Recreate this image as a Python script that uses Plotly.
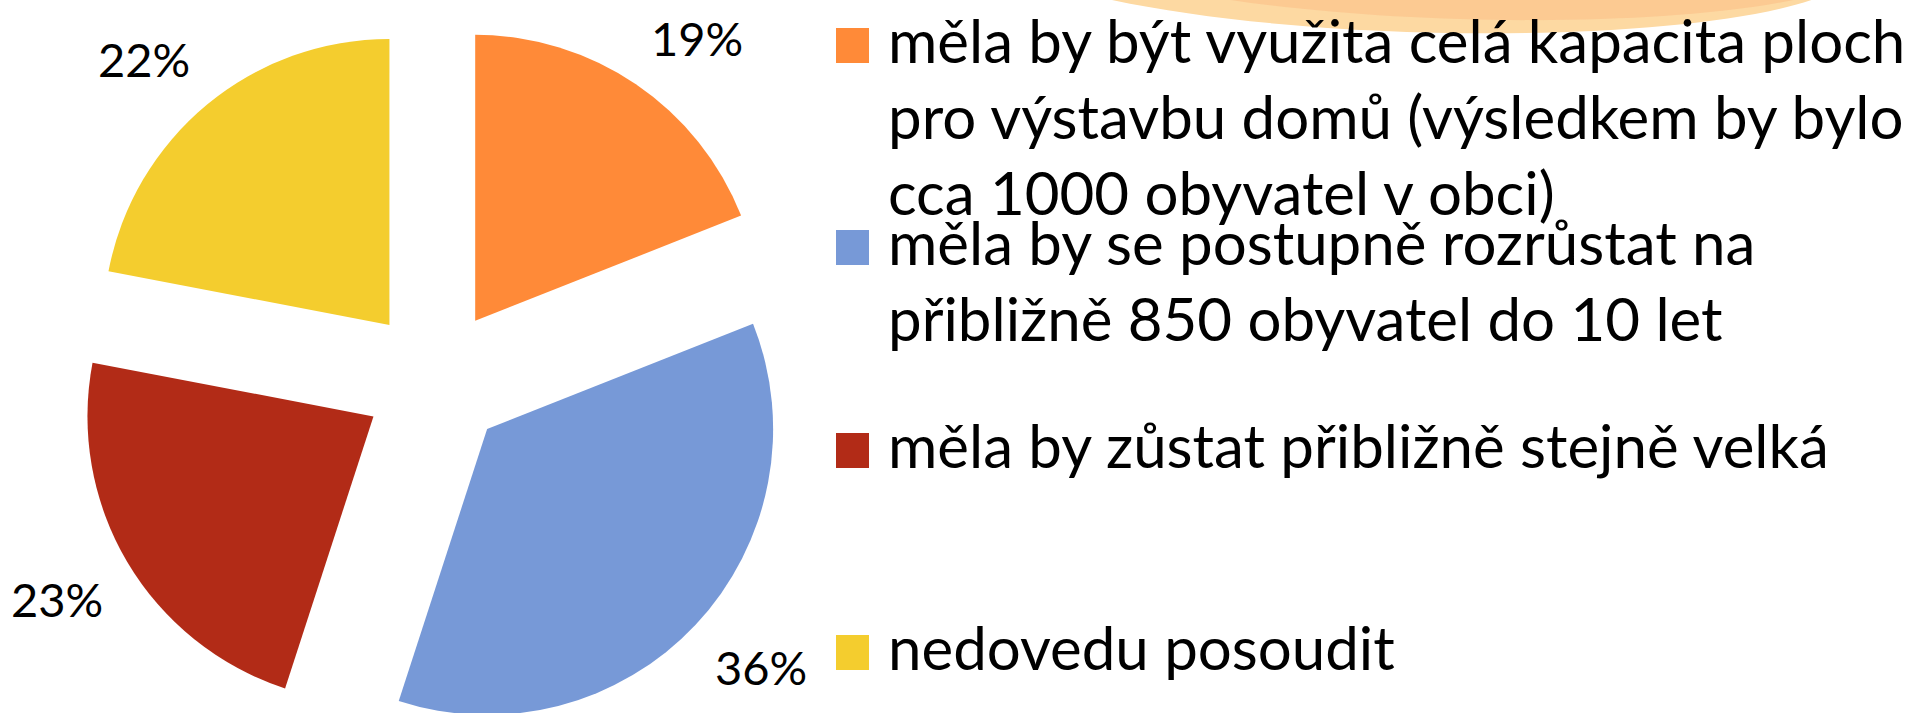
import math
import plotly.graph_objects as go

# ---- data ----
labels = [
    "měla by být využita celá kapacita ploch pro výstavbu domů (výsledkem by bylo cca 1000 obyvatel v obci)",
    "měla by se postupně rozrůstat na přibližně 850 obyvatel do 10 let",
    "měla by zůstat přibližně stejně velká",
    "nedovedu posoudit",
]
legend_lines = [
    ["měla by být využita celá kapacita ploch", "pro výstavbu domů (výsledkem by bylo", "cca 1000 obyvatel v obci)"],
    ["měla by se postupně rozrůstat na", "přibližně 850 obyvatel do 10 let"],
    ["měla by zůstat přibližně stejně velká"],
    ["nedovedu posoudit"],
]
values = [19, 36, 23, 22]
colors = ["#FF8A38", "#7799D7", "#B22B17", "#F4CD2E"]

# ---- layout geometry (pixels) ----
W, H = 1919, 760          # figure a bit taller than the 713 window, bottom clipped
CX, CY, R, PULL = 435, 380, 286, 0.25
half = R * (1 + PULL)
LABEL_GAP = 30            # gap between slice edge and label box corner
LABEL_HW, LABEL_HH = 44, 22


def px(x):
    return x / W


def py(y):
    return 1 - y / H


def sgn(a):
    return 1 if a > 1e-9 else (-1 if a < -1e-9 else 0)


fig = go.Figure()
fig.add_trace(go.Pie(
    labels=labels, values=values, sort=False, direction="clockwise", rotation=0,
    pull=[PULL] * len(values),
    marker=dict(colors=colors, line=dict(width=0)),
    textinfo="none", automargin=False,
    domain=dict(x=[px(CX - half), px(CX + half)], y=[py(CY + half), py(CY - half)]),
    showlegend=False, hoverinfo="label+percent",
))

shapes = []
annotations = []

# percent labels outside the slices (box corner placed just beyond each slice's outer edge)
total = sum(values)
cum = 0
for v in values:
    mid = 2 * math.pi * (cum + v / 2) / total
    cum += v
    s, c = math.sin(mid), math.cos(mid)
    d = half + LABEL_GAP
    lx = CX + d * s + sgn(s) * LABEL_HW
    ly = CY - d * c - sgn(c) * LABEL_HH
    annotations.append(dict(x=px(lx), y=py(ly), xref="paper", yref="paper", xanchor="center", yanchor="middle",
                            text=f"{round(100 * v / total)}%", showarrow=False,
                            font=dict(family="Lato", size=47, color="black")))

# decorative background wave (slide theme)
shapes.append(dict(type="path", xref="paper", yref="paper", layer="below",
                   path=f"M {px(1090)},{py(-5)} C {px(1300)},{py(46)} {px(1700)},{py(46)} {px(1825)},{py(-5)} Z",
                   fillcolor="rgb(253,217,162)", line=dict(width=0)))
shapes.append(dict(type="path", xref="paper", yref="paper", layer="below",
                   path=f"M {px(1200)},{py(-5)} C {px(1380)},{py(27)} {px(1680)},{py(30)} {px(1815)},{py(-5)} Z",
                   fillcolor="rgb(251,198,142)", line=dict(width=0), opacity=0.8))

# legend (swatch + text lines)
LEG_FONT = 60
LINE_H = 76
item_top = [28, 230, 433, 635]
SW = 34
for i, lines in enumerate(legend_lines):
    t = item_top[i]
    shapes.append(dict(type="rect", xref="paper", yref="paper",
                       x0=px(836), x1=px(836 + SW - 1), y0=py(t + SW + 1), y1=py(t),
                       fillcolor=colors[i], line=dict(width=0)))
    for j, line in enumerate(lines):
        baseline = t + 35 + j * LINE_H
        annotations.append(dict(x=px(886), y=py(baseline - 0.387 * LEG_FONT), xref="paper", yref="paper",
                                xanchor="left", yanchor="middle", text=line, showarrow=False,
                                font=dict(family="Lato", size=LEG_FONT, color="black")))

fig.update_layout(
    width=W, height=H, margin=dict(l=0, r=0, t=0, b=0, autoexpand=False),
    paper_bgcolor="white", plot_bgcolor="white",
    shapes=shapes, annotations=annotations,
    font=dict(family="Lato"),
)

fig.write_html(
    "out.html",
    config={"displayModeBar": False},
    post_script="document.body.style.margin='0';document.body.style.overflow='hidden';"
                "document.documentElement.style.overflow='hidden';",
)
